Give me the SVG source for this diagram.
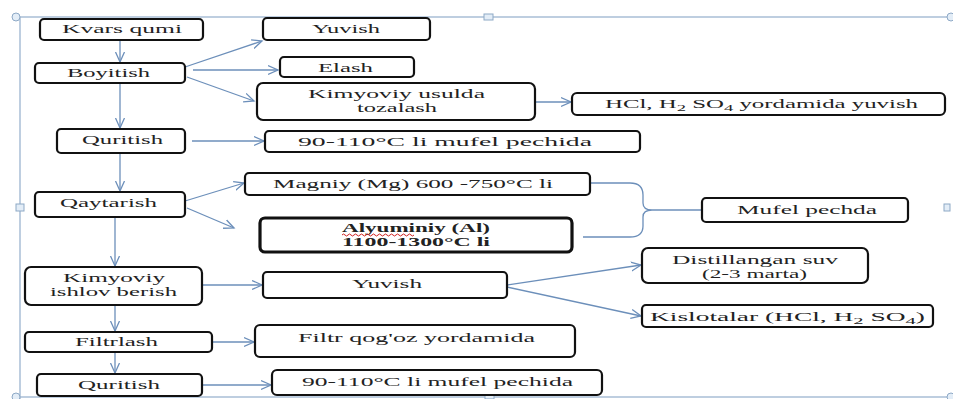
<svg xmlns="http://www.w3.org/2000/svg" width="953" height="399" viewBox="0 0 953 399">
<style>
.box{fill:#fff;stroke:#111;stroke-width:2.2}
.bold{stroke-width:3.2}
.t{font-family:"Liberation Serif","Times New Roman",serif;font-size:12px;fill:#222}
.b{font-weight:bold}
.c{fill:none;stroke:#6c8fba;stroke-width:1.3}
.f{fill:none;stroke:#a9bfd6;stroke-width:1.5}
.h{fill:#e3edf7;stroke:#8ea9c6;stroke-width:1}
</style>
<defs>
<marker id="a" markerUnits="userSpaceOnUse" markerWidth="12" markerHeight="12" refX="10" refY="5" orient="auto" viewBox="0 0 12 10">
<path d="M0,0.5 L10,5 L0,9.5" fill="none" stroke="#6c8fba" stroke-width="1.3"/>
</marker>
</defs>
<g id="frame">
<path class="f" d="M12,17 H950 M20,17 V399 M12,397 H953"/>
<circle class="h" cx="16" cy="17" r="4"/>
<circle class="h" cx="951" cy="17" r="4"/>
<rect class="h" x="484" y="14" width="9" height="6"/>
<rect class="h" x="16" y="204" width="8" height="7"/>
<rect class="h" x="944" y="204" width="6" height="7"/>
<rect class="h" x="485" y="393" width="9" height="6"/>
<circle class="h" cx="16" cy="397" r="4"/>
<circle class="h" cx="951" cy="397" r="4"/>
</g>
<g id="connectors">
<path class="c" marker-end="url(#a)" d="M120,40 V62"/>
<path class="c" marker-end="url(#a)" d="M120,83 V128"/>
<path class="c" marker-end="url(#a)" d="M185,67 L262,41"/>
<path class="c" marker-end="url(#a)" d="M193,70 L278,70"/>
<path class="c" marker-end="url(#a)" d="M187,77 L254,101"/>
<path class="c" marker-end="url(#a)" d="M535,102 L571,102"/>
<path class="c" marker-end="url(#a)" d="M192,141 L264,141"/>
<path class="c" marker-end="url(#a)" d="M120,153 V191"/>
<path class="c" marker-end="url(#a)" d="M185,201 L244,183"/>
<path class="c" marker-end="url(#a)" d="M187,208 L234,228"/>
<path class="c" marker-end="url(#a)" d="M115,217 V266"/>
<path class="c" marker-end="url(#a)" d="M202,285 L262,285"/>
<path class="c" marker-end="url(#a)" d="M507,285 L641,265"/>
<path class="c" marker-end="url(#a)" d="M507,287 L641,316"/>
<path class="c" marker-end="url(#a)" d="M115,305 V331"/>
<path class="c" marker-end="url(#a)" d="M212,342 L254,342"/>
<path class="c" marker-end="url(#a)" d="M115,352 V373"/>
<path class="c" marker-end="url(#a)" d="M202,385 L271,385"/>
<path class="c" d="M590,183 H630 Q643,183 643,195 V203 Q643,210 652,210 Q643,210 643,217 V226 Q643,237 630,237 H583"/>
<path class="c" d="M652,210 H702"/>
</g>
<g id="n1"><rect class="box" x="40" y="19" width="163" height="21" rx="4"/><text class="t" x="62" y="33" textLength="120" lengthAdjust="spacingAndGlyphs">Kvars qumi</text></g>
<g id="n2"><rect class="box" x="35" y="63" width="150" height="20" rx="4"/><text class="t" x="67" y="77" textLength="83" lengthAdjust="spacingAndGlyphs">Boyitish</text></g>
<g id="n3"><rect class="box" x="263" y="18" width="167" height="22" rx="4"/><text class="t" x="312" y="33" textLength="68" lengthAdjust="spacingAndGlyphs">Yuvish</text></g>
<g id="n4"><rect class="box" x="280" y="57" width="134" height="20" rx="4"/><text class="t" x="318" y="72" textLength="55" lengthAdjust="spacingAndGlyphs">Elash</text></g>
<g id="n5"><rect class="box" x="257" y="83" width="278" height="37" rx="6"/><text class="t" x="308" y="98" textLength="177" lengthAdjust="spacingAndGlyphs">Kimyoviy usulda</text><text class="t" x="357" y="112" textLength="80" lengthAdjust="spacingAndGlyphs">tozalash</text></g>
<g id="n6"><rect class="box" x="572" y="93" width="373" height="22" rx="5"/><text class="t" x="605" y="108" textLength="313" lengthAdjust="spacingAndGlyphs">HCl, H<tspan font-size="9" dy="3">2</tspan><tspan dy="-3"> SO</tspan><tspan font-size="9" dy="3">4</tspan><tspan dy="-3"> yordamida yuvish</tspan></text></g>
<g id="n7"><rect class="box" x="57" y="129" width="128" height="24" rx="4"/><text class="t" x="82" y="144" textLength="81" lengthAdjust="spacingAndGlyphs">Quritish</text></g>
<g id="n8"><rect class="box" x="265" y="131" width="375" height="21" rx="4"/><text class="t" x="298" y="146" textLength="294" lengthAdjust="spacingAndGlyphs">90-110°C li mufel pechida</text></g>
<g id="n9"><rect class="box" x="35" y="192" width="150" height="25" rx="4"/><text class="t" x="60" y="207" textLength="97" lengthAdjust="spacingAndGlyphs">Qaytarish</text></g>
<g id="n10"><rect class="box" x="245" y="173" width="345" height="22" rx="4"/><text class="t" x="273" y="188" textLength="280" lengthAdjust="spacingAndGlyphs">Magniy (Mg) 600 -750°C li</text></g>
<g id="n11"><rect class="box bold" x="260" y="218" width="312" height="34" rx="5"/><text class="t b" x="342" y="232" textLength="148" lengthAdjust="spacingAndGlyphs">Alyuminiy (Al)</text><path d="M342,235 q1.5,-2 3,0 t3,0 t3,0 t3,0 t3,0 t3,0 t3,0 t3,0 t3,0 t3,0 t3,0 t3,0 t3,0 t3,0 t3,0 t3,0 t3,0 t3,0 t3,0 t3,0 t3,0 t3,0 t3,0 t3,0" fill="none" stroke="#d02020" stroke-width="1"/><text class="t b" x="342" y="246" textLength="148" lengthAdjust="spacingAndGlyphs">1100-1300°C  li</text></g>
<g id="n12"><rect class="box" x="702" y="198" width="206" height="24" rx="4"/><text class="t" x="737" y="214" textLength="140" lengthAdjust="spacingAndGlyphs">Mufel pechda</text></g>
<g id="n13"><rect class="box" x="25" y="267" width="177" height="38" rx="6"/><text class="t" x="63" y="282" textLength="102" lengthAdjust="spacingAndGlyphs">Kimyoviy</text><text class="t" x="50" y="296" textLength="127" lengthAdjust="spacingAndGlyphs">ishlov berish</text></g>
<g id="n14"><rect class="box" x="263" y="272" width="244" height="26" rx="4"/><text class="t" x="352" y="288" textLength="70" lengthAdjust="spacingAndGlyphs">Yuvish</text></g>
<g id="n15"><rect class="box" x="642" y="248" width="226" height="35" rx="6"/><text class="t" x="672" y="264" textLength="166" lengthAdjust="spacingAndGlyphs">Distillangan suv</text><text class="t" x="702" y="278" textLength="105" lengthAdjust="spacingAndGlyphs">(2-3 marta)</text></g>
<g id="n16"><rect class="box" x="642" y="305" width="291" height="22" rx="4"/><text class="t" x="650" y="321" textLength="275" lengthAdjust="spacingAndGlyphs">Kislotalar (HCl, H<tspan font-size="9" dy="3">2</tspan><tspan dy="-3"> SO</tspan><tspan font-size="9" dy="3">4</tspan><tspan dy="-3">)</tspan></text></g>
<g id="n17"><rect class="box" x="25" y="332" width="187" height="20" rx="4"/><text class="t" x="75" y="346" textLength="83" lengthAdjust="spacingAndGlyphs">Filtrlash</text></g>
<g id="n18"><rect class="box" x="255" y="325" width="320" height="32" rx="5"/><text class="t" x="298" y="342" textLength="237" lengthAdjust="spacingAndGlyphs">Filtr qog'oz yordamida</text></g>
<g id="n19"><rect class="box" x="37" y="374" width="165" height="22" rx="4"/><text class="t" x="78" y="389" textLength="82" lengthAdjust="spacingAndGlyphs">Quritish</text></g>
<g id="n20"><rect class="box" x="272" y="370" width="330" height="25" rx="5"/><text class="t" x="302" y="386" textLength="271" lengthAdjust="spacingAndGlyphs">90-110°C li mufel pechida</text></g>
</svg>
